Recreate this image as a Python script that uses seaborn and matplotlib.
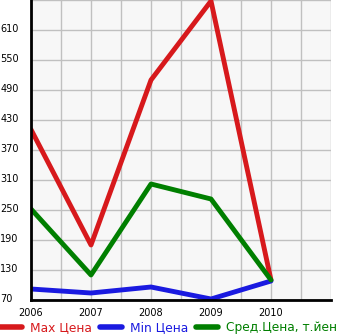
import matplotlib
matplotlib.use("Agg")
import matplotlib.pyplot as plt
import matplotlib.transforms as mtransforms
import seaborn as sns
import pandas as pd

years = [2006, 2007, 2008, 2009, 2010]
max_price = [411, 180, 510, 668, 110]
min_price = [92, 84, 96, 72, 108]
avg_price = [252, 120, 302, 272, 110]
series_names = ["Max Цена", "Min Цена", "Сред.Цена, т.йен"]
colors = ["#d7191c", "#1a1ae0", "#007f00"]
y_ticks = [70, 130, 190, 250, 310, 370, 430, 490, 550, 610]

df = pd.DataFrame({
    "year": years * 3,
    "value": max_price + min_price + avg_price,
    "series": [series_names[0]] * 5 + [series_names[1]] * 5 + [series_names[2]] * 5,
})

sns.set_style("white")
plt.rcParams["font.family"] = ["DejaVu Sans"]

fig = plt.figure(figsize=(3.45, 3.35), dpi=100)
ax = fig.add_axes([31 / 345, 35 / 335, 300 / 345, 300 / 335])
ax.set_facecolor("#f7f7f7")

sns.lineplot(data=df, x="year", y="value", hue="series", palette=colors,
             hue_order=series_names, linewidth=3.5, ax=ax, legend=False)

ax.set_xlim(2006, 2011)
ax.set_ylim(70, 670)
ax.set_xticks([2006 + 0.5 * i for i in range(11)])
ax.set_xticklabels([str(int(2006 + 0.5 * i)) if i % 2 == 0 and i < 10 else "" for i in range(11)])
ax.set_yticks(y_ticks + [670])
ax.set_yticklabels([str(v) for v in y_ticks] + [""])
ax.grid(True, color="#c0c0c0", linewidth=1)
ax.set_axisbelow(True)
ax.set_xlabel("")
ax.set_ylabel("")
for s in ["top", "right"]:
    ax.spines[s].set_visible(False)
for s in ["left", "bottom"]:
    ax.spines[s].set_color("black")
    ax.spines[s].set_linewidth(2)
ax.tick_params(axis="both", direction="out", length=3, width=1, color="black",
               labelsize=7, labelcolor="black")
ax.tick_params(axis="x", pad=3)
ax.tick_params(axis="y", pad=19)
offset = mtransforms.ScaledTranslation(0, 2 / 100, fig.dpi_scale_trans)
for lab in ax.get_yticklabels():
    lab.set_horizontalalignment("left")
    lab.set_transform(lab.get_transform() + offset)

handles = [plt.Line2D([], [], color=c, linewidth=4, solid_capstyle="round") for c in colors]
leg = fig.legend(handles, series_names, loc="center left", bbox_to_anchor=(0.0, 7.5 / 335),
                 ncol=3, frameon=False, fontsize=8.8, handlelength=1.8,
                 handletextpad=0.65, columnspacing=0.65, borderaxespad=0, borderpad=0)
for t, c in zip(leg.get_texts(), colors):
    t.set_color(c)

fig.savefig("out.png", dpi=100)
